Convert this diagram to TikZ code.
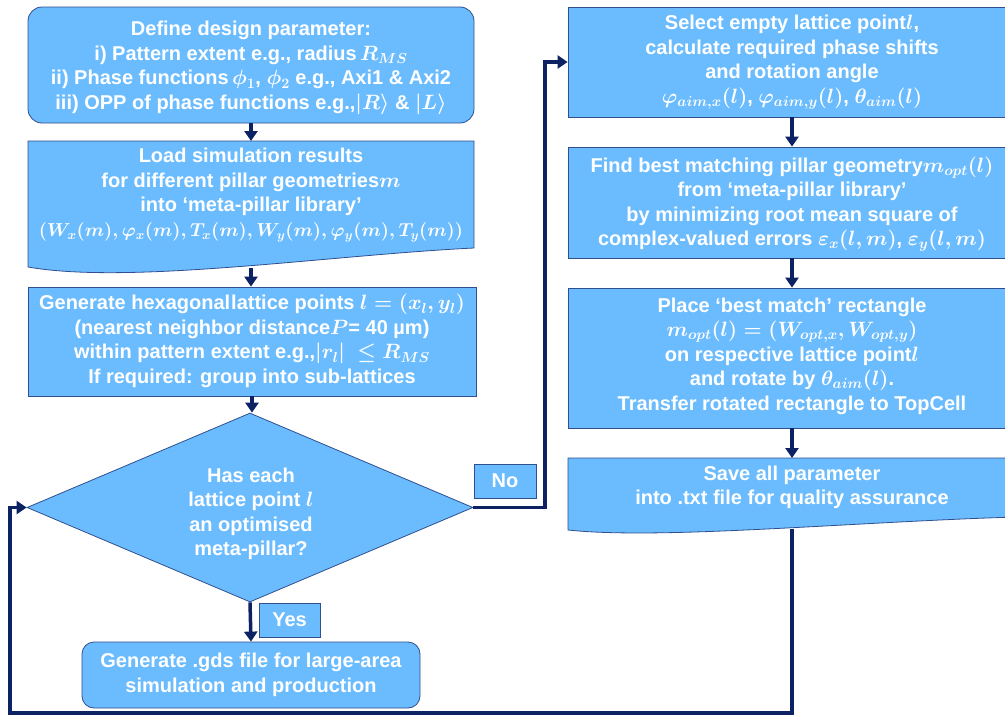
\documentclass[tikz,border=0pt]{standalone}
\usepackage{amsmath,amssymb,graphicx}
\usepackage{fontspec}
\setmainfont{Liberation Sans}
\usetikzlibrary{arrows.meta,shapes.geometric}
\definecolor{boxfill}{HTML}{6BBCFE}
\definecolor{boxline}{HTML}{2F4F8F}
\definecolor{arr}{HTML}{0C2262}
\tikzset{
  box/.style={draw=boxline, line width=0.8pt, fill=boxfill, inner sep=0pt},
  holder/.style={inner sep=0pt, outer sep=0pt},
  txt/.style={text=white, font=\fontsize{20}{24.5}\selectfont\bfseries\boldmath, align=center, inner sep=0pt},
  conn/.style={draw=arr, line width=3.5pt, -{Triangle[length=10pt,width=13pt]}},
}
\begin{document}
\begin{tikzpicture}[x=1pt,y=-1pt]
\useasboundingbox (0,0) rectangle (1005,715);
\clip (0,0) rectangle (1005,715);

% ---------- left column ----------
\node[box, rounded corners=14pt, minimum width=446pt, minimum height=116pt] (b1) at (251,65) {};
\node[txt] (b1t) at (251,68) {Define design parameter:\\
 i) Pattern extent e.g., radius\,$R_{MS}$\\
 ii) Phase functions\,$\phi_1$, $\phi_2$ e.g., Axi1 \& Axi2\\
 iii) OPP of phase functions e.g.,$|R\rangle$ \& $|L\rangle$};

\node[holder, minimum width=446pt, minimum height=127pt] (b2) at (251,204.5) {};
\path[box] (b2.north west) -- (b2.north east) -- (474,248)
  .. controls (330,255) and (130,285) .. (28,267) -- cycle;
\node[txt] (b2t) at (251,195) {Load simulation results\\
 for different pillar geometries$m$\\
 into ‘meta-pillar library’\\
 \resizebox{424pt}{!}{$(W_x(m), \varphi_x(m), T_x(m), W_y(m), \varphi_y(m), T_y(m))$}};

\node[box, minimum width=448pt, minimum height=109pt] (b3) at (252,341.5) {};
\node[txt] (b3t) at (252,341) {Generate hexagonal\hspace{1pt}lattice points $l = (x_l, y_l)$\\
 (nearest neighbor distance$P$= 40 µm)\\
 within pattern extent e.g.,$|r_l|\ \leq R_{MS}$\\
 If required: group into sub-lattices};

\node[box, diamond, minimum width=446pt, minimum height=189pt] (dia) at (250,507.5) {};
\node[txt] (diat) at (251,514) {Has each\\ lattice point $l$\\ an optimised\\ meta-pillar?};

\node[box, txt, draw=boxline, fill=boxfill, minimum width=62pt, minimum height=34pt] (no) at (505,481) {No};
\node[box, txt, draw=boxline, fill=boxfill, minimum width=61pt, minimum height=34pt] (yes) at (289.5,620) {Yes};

\node[box, rounded corners=12pt, minimum width=338pt, minimum height=66pt] (gen) at (251,675) {};
\node[txt] (gent) at (251,675) {Generate .gds file for large-area\\ simulation and production};

% ---------- right column ----------
\node[box, minimum width=448pt, minimum height=110pt] (r1) at (792,62) {};
\node[txt] (r1t) at (792,62) {Select empty lattice point$l$,\\
 calculate required phase shifts\\
 and rotation angle\\
 $\varphi_{aim,x}(l)$, $\varphi_{aim,y}(l)$, $\theta_{aim}(l)$};

\node[box, minimum width=448pt, minimum height=111pt] (r2) at (792,202.5) {};
\node[txt] (r2t) at (792,204) {Find best matching pillar geometry$m_{opt}(l)$\\
 from ‘meta-pillar library’\\
 by minimizing root mean square of\\
 complex-valued errors $\varepsilon_x(l,m)$, $\varepsilon_y(l,m)$};

\node[box, minimum width=448pt, minimum height=140pt] (r3) at (792,358) {};
\node[txt] (r3t) at (792,356) {Place ‘best match’ rectangle\\
 $m_{opt}(l) = (W_{opt,x}, W_{opt,y})$\\
 on respective lattice point$l$\\
 and rotate by $\theta_{aim}(l)$.\\
 Transfer rotated rectangle to TopCell};

\node[holder, minimum width=448pt, minimum height=71pt] (r4) at (792,493.5) {};
\path[box] (r4.north west) -- (r4.north east) -- (1016,517)
  .. controls (850,522) and (660,540) .. (568,530) -- cycle;
\node[txt] (r4t) at (792,487.5) {Save all parameter\\ into .txt file for quality assurance};

% ---------- connectors ----------
\coordinate (nobend) at (545,0);
\coordinate (loopL) at (10,713);
\draw[conn] (b1.south) -- (b2.north);
\draw[conn] (b2.south) -- (b2.south |- b3.north);
\draw[conn] (b3.south) -- (b3.south |- dia.north);
\draw[conn] (dia.south) -- (gen.north);
\draw[conn] (dia.east) -- (dia.east -| nobend) |- (r1.west);
\draw[conn] (r1.south) -- (r2.north);
\draw[conn] (r2.south) -- (r3.north);
\draw[conn] (r3.south) -- (r4.north);
\draw[conn] (r4.south) -- (r4.south |- loopL) -- (loopL) |- (dia.west);
\end{tikzpicture}
\end{document}
